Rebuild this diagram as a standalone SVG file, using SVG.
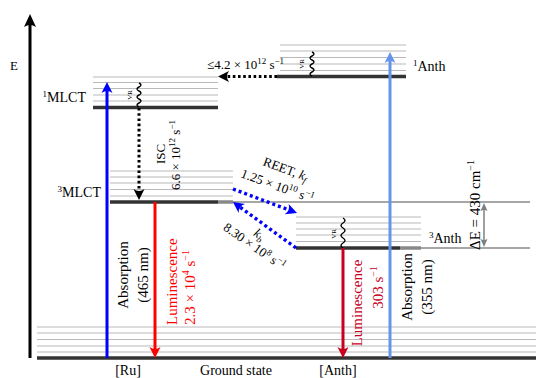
<svg xmlns="http://www.w3.org/2000/svg" width="536" height="378" viewBox="0 0 536 378">
<style>
text{font-family:"Liberation Serif","Times New Roman",serif;fill:#000}
.lv{stroke:#333;stroke-width:3.5;fill:none}
.vib{stroke:#b9b9b9;stroke-width:1.2;fill:none}
.ext{stroke:#888;stroke-width:1.3;fill:none}
.extk{stroke:#888;stroke-width:3.5;fill:none}
.sq{stroke:#000;stroke-width:1.4;fill:none}
.vr{font-size:7px}
.lab{font-size:14px}
.big{font-size:15px}
.mid{font-size:13px}
.dotk{stroke:#000;stroke-width:3;stroke-dasharray:2.6 2.6;fill:none}
.dotb{stroke:#0000ff;stroke-width:3.4;stroke-dasharray:3 3;fill:none}
</style>
<defs>
<marker id="mK" markerUnits="userSpaceOnUse" overflow="visible" orient="auto" refX="0" refY="0" markerWidth="14" markerHeight="14"><path d="M6,0 L-5,-5.5 Q-1,0 -5,5.5 Z" fill="#000"/></marker>
<marker id="mAx" markerUnits="userSpaceOnUse" overflow="visible" orient="auto" refX="0" refY="0" markerWidth="14" markerHeight="14"><path d="M7,0 L-6,-6 Q-2,0 -6,6 Z" fill="#000"/></marker>
<marker id="mB" markerUnits="userSpaceOnUse" overflow="visible" orient="auto" refX="0" refY="0" markerWidth="14" markerHeight="14"><path d="M6,0 L-5,-5.5 Q-1,0 -5,5.5 Z" fill="#0000ff"/></marker>
<marker id="mR" markerUnits="userSpaceOnUse" overflow="visible" orient="auto" refX="0" refY="0" markerWidth="14" markerHeight="14"><path d="M6,0 L-5,-5.5 Q-1,0 -5,5.5 Z" fill="#ff0000"/></marker>
<marker id="mDR" markerUnits="userSpaceOnUse" overflow="visible" orient="auto" refX="0" refY="0" markerWidth="14" markerHeight="14"><path d="M6,0 L-5,-5.5 Q-1,0 -5,5.5 Z" fill="#c8001e"/></marker>
<marker id="mLB" markerUnits="userSpaceOnUse" overflow="visible" orient="auto" refX="0" refY="0" markerWidth="14" markerHeight="14"><path d="M6,0 L-5,-5.5 Q-1,0 -5,5.5 Z" fill="#6495ed"/></marker>
<marker id="mG" markerUnits="userSpaceOnUse" overflow="visible" orient="auto-start-reverse" refX="0" refY="0" markerWidth="10" markerHeight="10"><path d="M5,0 L-3,-3.5 Q-1,0 -3,3.5 Z" fill="#808080"/></marker>
</defs>

<g id="axis">
<line x1="30" y1="358" x2="30" y2="21" stroke="#000" stroke-width="3" marker-end="url(#mAx)"/>
<text class="mid" x="14" y="70" text-anchor="middle">E</text>
</g>

<g id="ground">
<path class="vib" d="M37,327H536M37,333H536M37,339.5H536M37,346H536M37,352H536"/>
<line class="lv" x1="37" y1="358" x2="536" y2="358"/>
<text class="lab" x="128" y="375" text-anchor="middle">[Ru]</text>
<text class="lab" x="236" y="375" text-anchor="middle">Ground state</text>
<text class="lab" x="338" y="375" text-anchor="middle">[Anth]</text>
</g>

<g id="mlct1">
<path class="vib" d="M93,77H218M93,82.5H218M93,88.5H218M93,95H218M93,101H218"/>
<line class="lv" x1="93" y1="107.5" x2="218" y2="107.5"/>
<path class="sq" d="M139,83 q4,2 0,4 t0,4 t0,4 t0,4 t0,4 t0,4"/>
<text class="vr" transform="translate(132,95) rotate(-90)" text-anchor="middle">VR</text>
<text class="lab" x="86" y="102" text-anchor="end"><tspan font-size="9" dy="-5">1</tspan><tspan dy="5">MLCT</tspan></text>
</g>

<g id="mlct3">
<path class="vib" d="M110,171H233M110,177H233M110,183H233M110,189.5H233M110,196H233"/>
<line class="ext" x1="218" y1="202" x2="530" y2="202"/>
<line class="extk" x1="218" y1="202" x2="233" y2="202"/>
<line class="lv" x1="110" y1="202" x2="218" y2="202"/>
<text class="lab" x="101" y="197" text-anchor="end"><tspan font-size="9" dy="-5">3</tspan><tspan dy="5">MLCT</tspan></text>
</g>

<g id="anth1">
<path class="vib" d="M280,45H406M280,51H406M280,57.5H406M280,64H406M280,70.5H406"/>
<line class="lv" x1="277" y1="76.5" x2="406" y2="76.5"/>
<path class="sq" d="M312,52 q4,2 0,4 t0,4 t0,4 t0,4 t0,4 t0,4"/>
<text class="vr" transform="translate(304,64) rotate(-90)" text-anchor="middle">VR</text>
<text class="lab" x="413" y="71"><tspan font-size="9" dy="-5">1</tspan><tspan dy="5">Anth</tspan></text>
</g>

<g id="anth3">
<path class="vib" d="M296,217H421M296,223H421M296,229H421M296,235H421M296,241.5H421"/>
<line class="ext" x1="400" y1="248" x2="530" y2="248"/>
<line class="extk" x1="400" y1="248" x2="421" y2="248"/>
<line class="lv" x1="296" y1="248" x2="400" y2="248"/>
<path class="sq" d="M343,218 q4,2.5 0,5 t0,5 t0,5 t0,5 t0,5 t0,5"/>
<text class="vr" transform="translate(336,234) rotate(-90)" text-anchor="middle">VR</text>
<text class="lab" x="429" y="243"><tspan font-size="9" dy="-5">3</tspan><tspan dy="5">Anth</tspan></text>
</g>

<g id="connectors">
<line x1="107" y1="358" x2="107" y2="88" stroke="#0000ff" stroke-width="3" marker-end="url(#mB)"/>
<line x1="390" y1="358" x2="390" y2="58" stroke="#6495ed" stroke-width="3" marker-end="url(#mLB)"/>
<line x1="155" y1="202" x2="155" y2="352" stroke="#ff0000" stroke-width="3" marker-end="url(#mR)"/>
<line x1="343" y1="248" x2="343" y2="352" stroke="#c8001e" stroke-width="3" marker-end="url(#mDR)"/>
<line class="dotk" x1="139" y1="108" x2="139" y2="194" marker-end="url(#mK)"/>
<line class="dotk" x1="277" y1="76.5" x2="224" y2="76.5" marker-end="url(#mK)"/>
<line class="dotb" x1="233" y1="189" x2="291.4" y2="210.9" marker-end="url(#mB)"/>
<line class="dotb" x1="296" y1="248" x2="237.8" y2="205.5" marker-end="url(#mB)"/>
<line x1="484" y1="208" x2="484" y2="242" stroke="#808080" stroke-width="1.5" marker-start="url(#mG)" marker-end="url(#mG)"/>
</g>

<g id="labels">
<text class="mid" x="207" y="69">≤4.2 × 10<tspan font-size="9" dy="-5">12</tspan><tspan dy="5"> s</tspan><tspan font-size="9" dy="-5">−1</tspan></text>
<text class="mid" transform="translate(165,154) rotate(-90)" text-anchor="middle">ISC</text>
<text class="mid" transform="translate(180,155) rotate(-90)" text-anchor="middle">6.6 × 10<tspan font-size="9" dy="-5">12</tspan><tspan dy="5"> s</tspan><tspan font-size="9" dy="-5">−1</tspan></text>
<text class="big" transform="translate(128,275) rotate(-90)" text-anchor="middle">Absorption</text>
<text class="big" transform="translate(148,275) rotate(-90)" text-anchor="middle">(465 nm)</text>
<text class="big" transform="translate(177,325) rotate(-90)" style="fill:#ff0000">Luminescence</text>
<text class="big" transform="translate(195,325) rotate(-90)" style="fill:#ff0000">2.3 × 10<tspan font-size="10" dy="-6">4</tspan><tspan dy="6"> s</tspan><tspan font-size="10" dy="-6">−1</tspan></text>
<text class="big" transform="translate(362,303) rotate(-90)" text-anchor="middle" style="fill:#c8001e">Luminescence</text>
<text class="big" transform="translate(383,287.5) rotate(-90)" text-anchor="middle" style="fill:#c8001e">303 s<tspan font-size="10" dy="-6">−1</tspan></text>
<text class="big" transform="translate(412,287) rotate(-90)" text-anchor="middle">Absorption</text>
<text class="big" transform="translate(432,287) rotate(-90)" text-anchor="middle">(355 nm)</text>
<text class="big" transform="translate(480,205) rotate(-90)" text-anchor="middle">ΔE = 430 cm<tspan font-size="10" dy="-6">−1</tspan></text>
<text class="mid" transform="translate(284,173) rotate(20)" text-anchor="middle">REET, <tspan font-style="italic">k</tspan><tspan font-size="9" dy="3" font-style="italic">f</tspan></text>
<text class="mid" transform="translate(276,190) rotate(20)" text-anchor="middle">1.25 × 10<tspan font-size="9" dy="-5">10</tspan><tspan dy="5"> s</tspan><tspan font-size="9" dy="-5">−1</tspan></text>
<text class="mid" transform="translate(257,238) rotate(35)" text-anchor="middle"><tspan font-style="italic">k</tspan><tspan font-size="9" dy="3" font-style="italic">b</tspan></text>
<text class="mid" transform="translate(252,250) rotate(35)" text-anchor="middle">8.30 × 10<tspan font-size="9" dy="-5">8</tspan><tspan dy="5"> s</tspan><tspan font-size="9" dy="-5">−1</tspan></text>
</g>
</svg>
